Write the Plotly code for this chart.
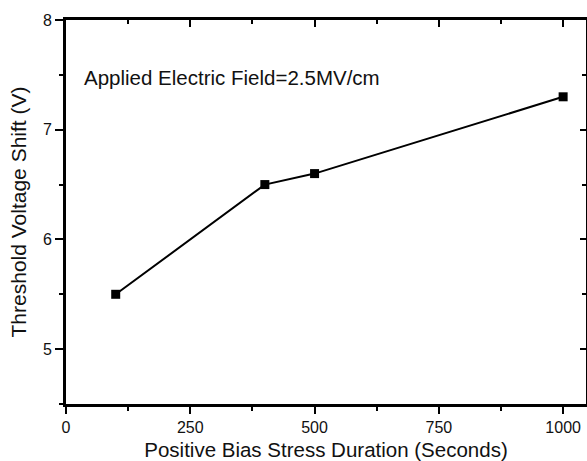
import plotly.graph_objects as go

duration_s = [100, 400, 500, 1000]
vth_shift_v = [5.5, 6.5, 6.6, 7.3]
x_ticks = [0, 250, 500, 750, 1000]
y_ticks = [5, 6, 7, 8]

FONT = "Liberation Sans, Arial, sans-serif"
INK = "#111111"

fig = go.Figure()
fig.add_trace(go.Scatter(
    x=duration_s, y=vth_shift_v, mode="lines+markers",
    line=dict(color="black", width=2),
    marker=dict(symbol="square", size=9, color="black"),
    showlegend=False, hoverinfo="x+y",
))
# invisible trace so the mirrored top/right axes are drawn
fig.add_trace(go.Scatter(
    x=duration_s, y=vth_shift_v, mode="none", xaxis="x2", yaxis="y2",
    showlegend=False, hoverinfo="skip",
))

xr = [0, 1046]
yr = [4.5, 8]

common = dict(showline=True, linecolor="black", linewidth=3, showgrid=False,
              zeroline=False, tickcolor="black", tickwidth=2)

fig.update_layout(
    width=587, height=461,
    margin=dict(l=66, r=1, t=20, b=57),
    paper_bgcolor="white", plot_bgcolor="white",
    font=dict(family=FONT, color=INK),
    xaxis=dict(range=xr, tickvals=x_ticks, ticks="outside", ticklen=7,
               minor=dict(dtick=125, tick0=0, ticks="outside", ticklen=4,
                          tickwidth=2, tickcolor="black"),
               tickfont=dict(size=16, family=FONT, color=INK),
               title=dict(text="Positive Bias Stress Duration (Seconds)",
                          font=dict(size=20.5, family=FONT, color=INK), standoff=9),
               **common),
    yaxis=dict(range=yr, tickvals=y_ticks, ticks="outside", ticklen=8,
               minor=dict(dtick=0.5, tick0=4.5, ticks="outside", ticklen=4,
                          tickwidth=2, tickcolor="black"),
               tickfont=dict(size=16, family=FONT, color=INK),
               title=dict(text="Threshold Voltage Shift (V)",
                          font=dict(size=21, family=FONT, color=INK), standoff=11),
               **common),
    xaxis2=dict(range=xr, overlaying="x", side="top", tickvals=x_ticks,
                ticks="inside", ticklen=7, showticklabels=False,
                minor=dict(dtick=125, tick0=0, ticks="inside", ticklen=4,
                           tickwidth=2, tickcolor="black"),
                **common),
    yaxis2=dict(range=yr, overlaying="y", side="right", tickvals=y_ticks,
                ticks="inside", ticklen=6, showticklabels=False,
                minor=dict(dtick=0.5, tick0=4.5, ticks="inside", ticklen=4,
                           tickwidth=2, tickcolor="black"),
                **common),
    annotations=[dict(text="Applied Electric Field=2.5MV/cm", xref="paper",
                      yref="paper", x=0.03, y=0.85, xanchor="left",
                      yanchor="middle", showarrow=False,
                      font=dict(size=20.5, family=FONT, color=INK))],
)

fig.write_html("out.html")
